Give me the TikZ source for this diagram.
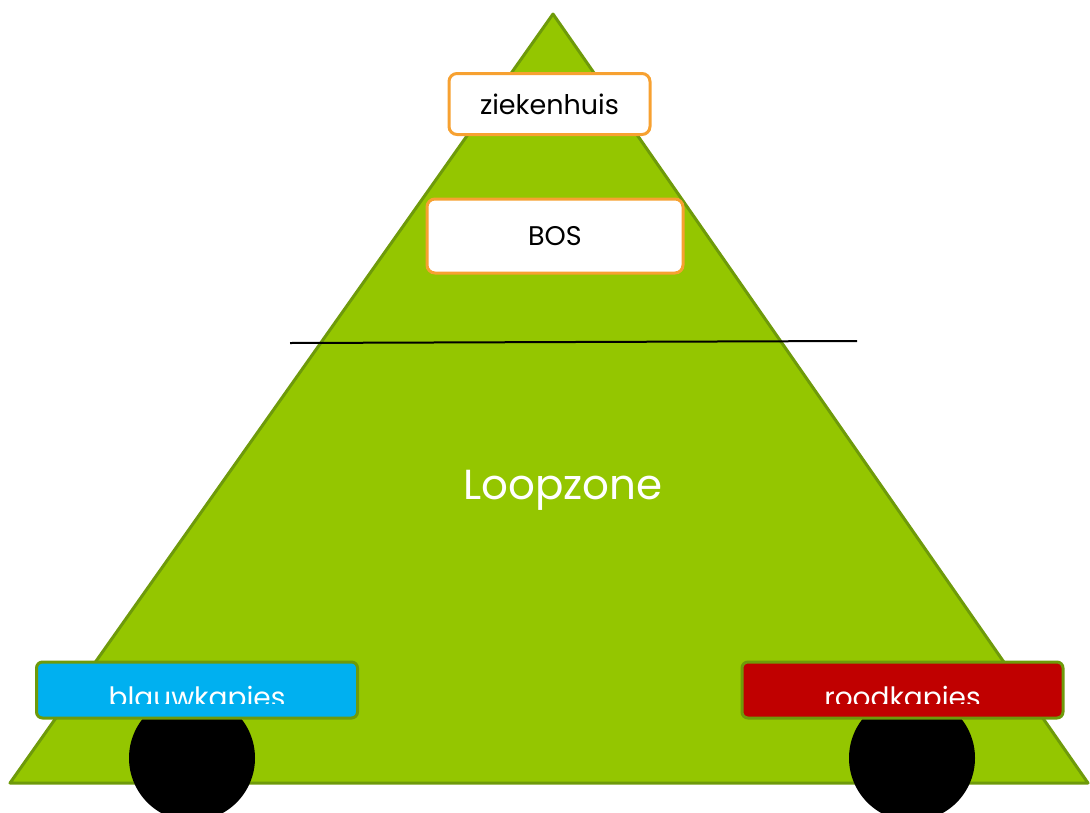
\documentclass[tikz,border=0pt]{standalone}
\usepackage{fontspec}
\setmainfont{Poppins}
\definecolor{trigreen}{HTML}{94C600}
\definecolor{triedge}{HTML}{6E9A0A}
\definecolor{boxorange}{HTML}{F7A131}
\definecolor{bluebox}{HTML}{00B0F0}
\definecolor{redbox}{HTML}{C00000}
\begin{document}
\begin{tikzpicture}[x=1pt,y=-1pt,
  toplabel/.style={draw=boxorange, line width=3pt, fill=white, rounded corners=8pt, inner sep=0pt},
  sidelabel/.style={draw=triedge, line width=3pt, rounded corners=6pt, inner sep=0pt, minimum width=321pt, minimum height=56pt},
  wheel/.style={circle, fill=black, inner sep=0pt, minimum size=126pt},
  labeltext/.style={text=white, font=\fontsize{28}{28}\selectfont, inner sep=0pt, anchor=base}
]
\useasboundingbox (0,0) rectangle (1090,812);
% triangle
\coordinate (apex) at (553,14);
\coordinate (bl) at (10,783);
\coordinate (br) at (1088,783);
\draw[fill=trigreen, draw=triedge, line width=3pt, line join=round] (apex) -- (bl) -- (br) -- cycle;
% dividing line
\coordinate (la) at (290,343);
\coordinate (lb) at (857,341);
\draw[black, line width=2pt] (la) -- (lb);
% wheels
\node[wheel] (wheelL) at (192,758) {};
\node[wheel] (wheelR) at (912,758) {};
% top labels
\node[toplabel, minimum width=201pt, minimum height=61pt, font=\fontsize{27}{27}\selectfont] (zk) at (549.5,104) {ziekenhuis};
\node[toplabel, minimum width=256pt, minimum height=74pt, font=\fontsize{27}{27}\selectfont] (bos) at (555,236) {BOS};
% loopzone
\node[text=white, font=\fontsize{42}{42}\selectfont, inner sep=0pt] (loop) at (563,490) {Loopzone};
% side labels
\node[sidelabel, fill=bluebox] (blauw) at (197,690) {};
\node[sidelabel, fill=redbox] (rood) at (902.5,690) {};
\begin{scope}
\clip (36,660) rectangle (358,703);
\node[labeltext] (blauwtxt) at (197,707) {blauwkapies};
\end{scope}
\begin{scope}
\clip (742,660) rectangle (1063,703);
\node[labeltext] (roodtxt) at (902.5,707) {roodkapies};
\end{scope}
\end{tikzpicture}
\end{document}
